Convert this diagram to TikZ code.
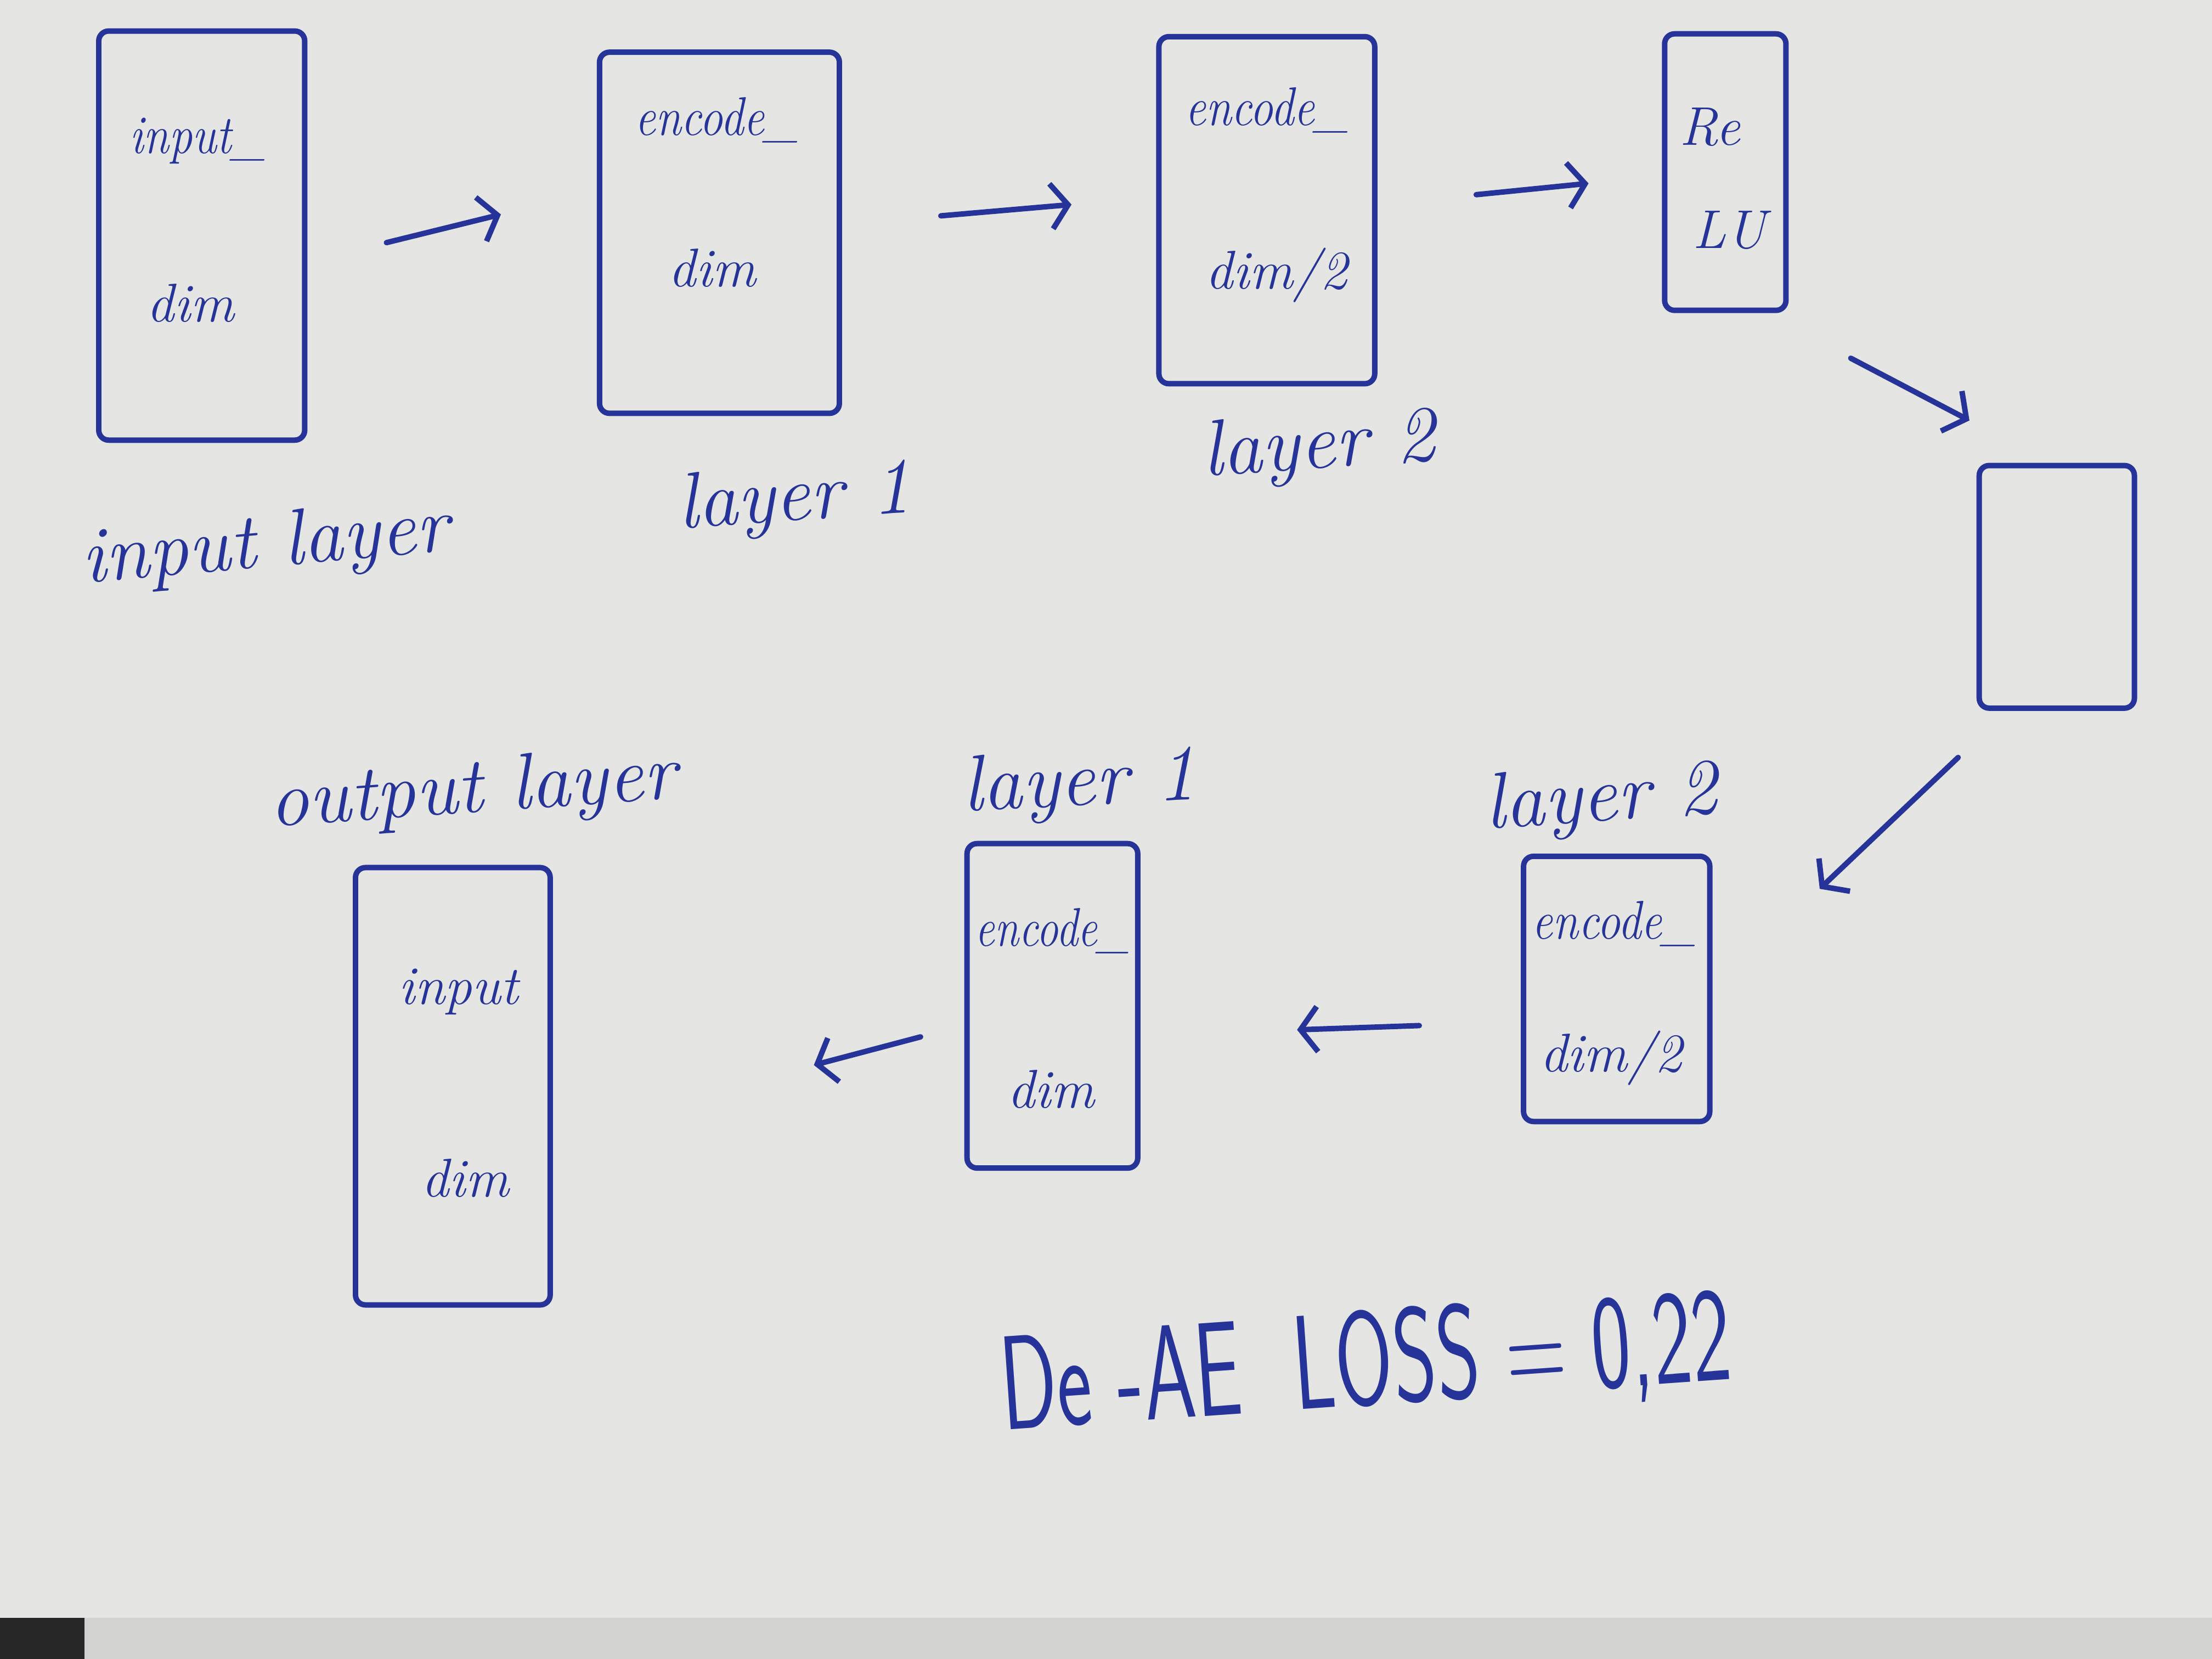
\documentclass[tikz,border=0pt]{standalone}
\usepackage{fontspec}
\usepackage{graphicx}
\usetikzlibrary{arrows.meta,calc}
\definecolor{ink}{HTML}{26349A}
\definecolor{paper}{HTML}{E5E5E3}
\definecolor{under}{HTML}{D2D2D0}
\begin{document}
\begin{tikzpicture}[x=0.01cm,y=-0.01cm,
  inkline/.style={draw=ink, line width=1.1pt, line cap=round, line join=round},
  box/.style 2 args={inkline, rectangle, rounded corners=2pt,
    minimum width=#1*0.01cm, minimum height=#2*0.01cm, inner sep=0pt},
  txt/.style={text=ink, font=\fontsize{11}{13}\selectfont\itshape, inner sep=0pt},
  lbl/.style={text=ink, font=\fontsize{16}{18}\selectfont\itshape, inner sep=0pt},
  arr/.style={inkline, -{Straight Barb[length=0.12cm,width=0.32cm]}},
]
% sheet of paper, with the page beneath showing along the bottom
\fill[paper] (0,0) rectangle (1568,1176);
\fill[under] (60,1147) rectangle (1568,1176);
\fill[black!85] (0,1147) rectangle (60,1176);

% encoder row
\node[box={146}{290}] (in)   at (143,167) {};
\node[box={170}{256}] (enc1) at (510,165) {};
\node[box={153}{246}] (enc2) at (898,149) {};
\node[box={86}{196}]  (relu) at (1223,122) {};
% bottleneck
\node[box={110}{172}] (code) at (1458,416) {};
% decoder row
\node[box={132}{188}] (dec2) at (1146,701) {};
\node[box={121}{230}] (dec1) at (746,713) {};
\node[box={138}{310}] (out)  at (321,770) {};

% texts inside the boxes
\node[txt] (in-a)   at (140,100) {\scalebox{0.85}[1]{input\_}};
\node[txt] (in-b)   at (135,215) {dim};
\node[txt] (enc1-a) at (508,85)  {\scalebox{0.85}[1]{encode\_}};
\node[txt] (enc1-b) at (505,190) {dim};
\node[txt] (enc2-a) at (898,78)  {\scalebox{0.85}[1]{encode\_}};
\node[txt] (enc2-b) at (905,195) {dim/2};
\node[txt] (relu-a) at (1212,90) {Re};
\node[txt] (relu-b) at (1226,163) {LU};
\node[txt] (dec2-a) at (1144,655) {\scalebox{0.85}[1]{encode\_}};
\node[txt] (dec2-b) at (1142,750) {dim/2};
\node[txt] (dec1-a) at (746,660) {\scalebox{0.8}[1]{encode\_}};
\node[txt] (dec1-b) at (745,772) {dim};
\node[txt] (out-a)  at (325,703) {input};
\node[txt] (out-b)  at (330,835) {dim};

% layer names
\node[lbl, rotate=5] (l-in)   at (188,388) {input layer};
\node[lbl, rotate=4] (l-enc1) at (563,355) {layer 1};
\node[lbl, rotate=4] (l-enc2) at (935,318) {layer 2};
\node[lbl, rotate=4] (l-out)  at (335,562) {output layer};
\node[lbl, rotate=3] (l-dec1) at (765,557) {layer 1};
\node[lbl, rotate=4] (l-dec2) at (1135,568) {layer 2};

% data flow
\draw[arr] ($(in.east)+(56,5)$)          -- ($(enc1.west)+(-68,-13)$);
\draw[arr] ($(enc1.east)+(70,-12)$)      -- ($(enc2.west)+(-60,-4)$);
\draw[arr] ($(enc2.east)+(70,-11)$)      -- ($(relu.west)+(-52,8)$);
\draw[arr] ($(relu.south east)+(44,32)$) -- ($(code.north west)+(-5,-30)$);
\draw[arr] ($(code.south west)+(-13,33)$) -- ($(dec2.north east)+(76,25)$);
\draw[arr] ($(dec2.west)+(-72,26)$)      -- ($(dec1.east)+(111,17)$);
\draw[arr] ($(dec1.west)+(-31,22)$)      -- ($(out.east)+(185,-15)$);

% reconstruction loss
\node[text=ink, font=\fontsize{27}{30}\selectfont\sffamily, inner sep=0pt, rotate=4]
  (loss) at (968,968) {\scalebox{0.62}[1]{De -AE\ \ LOSS = 0,22}};
\end{tikzpicture}
\end{document}
